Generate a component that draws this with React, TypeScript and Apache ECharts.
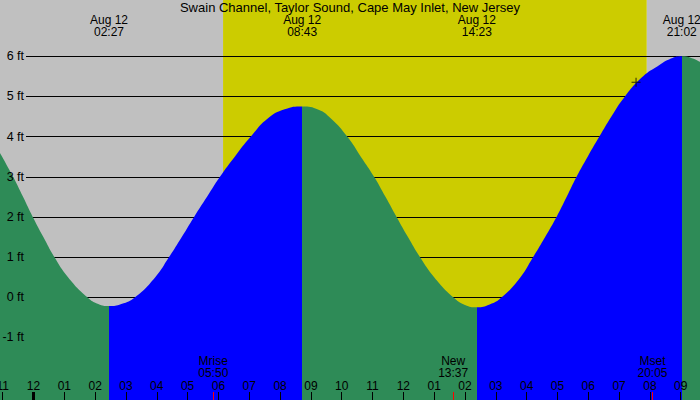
import { useEffect, useRef } from "react"
import * as echarts from "echarts"

// x is hours after midnight of Aug 12 (negative = evening of Aug 11)
const X_MIN = -1.087
const X_MAX = 21.625
const Y_MIN = -2.557
const Y_MAX = 7.4

const tideHours = [
  -1.087, -0.662, -0.34, -0.023, 0.32, 0.678, 1.12, 1.748, 2.1, 2.45,
  2.85, 3.295, 3.95, 4.397, 4.81, 5.21, 5.63, 6.05, 6.53, 7.05, 7.6, 8.15, 8.717,
  9.25, 9.65, 10.18, 10.62, 11.05, 11.42, 11.78, 12.15, 12.54, 13.0, 13.62, 14.0, 14.383,
  14.8, 15.19, 15.8, 16.21, 16.6, 16.97, 17.3, 17.62, 17.98, 18.36, 18.75, 19.19, 19.78, 20.25, 20.62, 21.033,
  21.3, 21.625,
]
const tideFeet = [
  3.59, 3.0, 2.5, 2.0, 1.5, 1.0, 0.5, 0.0, -0.17, -0.22,
  -0.17, 0.0, 0.5, 1.0, 1.5, 2.0, 2.5, 3.0, 3.5, 4.0, 4.45, 4.68, 4.75,
  4.67, 4.45, 4.0, 3.5, 3.0, 2.5, 2.0, 1.5, 1.0, 0.5, 0.0, -0.19, -0.25,
  -0.18, 0.0, 0.5, 1.0, 1.5, 2.0, 2.5, 3.0, 3.5, 4.0, 4.5, 5.0, 5.5, 5.75, 5.92, 6.0,
  5.97, 5.86,
]

const tideEventDate = "Aug 12"
const tideEventTimes = ["02:27", "08:43", "14:23", "21:02"]
const sunTimes = ["06:09", "19:54"] // sunrise, sunset
const moonEvents = ["Mrise", "New", "Mset"]
const moonTimes = ["05:50", "13:37", "20:05"]
const hourTicks = [-1, 0, 1, 2, 3, 4, 5, 6, 7, 8, 9, 10, 11, 12, 13, 14, 15, 16, 17, 18, 19, 20, 21]
const midnightTicks = [0]
const feetTicks = [-1, 0, 1, 2, 3, 4, 5, 6]
const nowPoint = [19.55, 5.35]

const TITLE = "Swain Channel, Taylor Sound, Cape May Inlet, New Jersey"
const NIGHT = "#c0c0c0"
const DAY = "#cccc00"
const FALLING = "#2e8b57"
const RISING = "#0000ff"
const FONT = "Liberation Sans"

const toHours = (t: string) => {
  const [h, m] = t.split(":").map(Number)
  return h + m / 60
}

export default function App() {
  const chartRef = useRef<HTMLDivElement>(null)

  useEffect(() => {
    if (!chartRef.current) return
    document.body.style.margin = "0"

    const chart = echarts.init(chartRef.current, undefined, { renderer: "svg" })

    const extremeHours = tideEventTimes.map(toHours)
    const [sunrise, sunset] = sunTimes.map(toHours)
    const moonHours = moonTimes.map(toHours)

    // falling water green, rising water blue
    const bounds = [X_MIN - 1, ...extremeHours, X_MAX + 1]
    const pieces = bounds.slice(0, -1).map((b, i) => ({
      gte: b,
      lt: bounds[i + 1],
      color: i % 2 === 0 ? FALLING : RISING,
    }))

    // grid lines start just right of the "ft" labels
    const lineStart = X_MIN + (26 / 700) * (X_MAX - X_MIN)

    const findIndex = (list: number[], v: number) => list.findIndex((h) => Math.abs(h - v) < 1e-6)
    const hourLabel = (v: number) => String(((v % 12) + 12) % 12 || 12).padStart(2, "0")

    const textBase = { color: "#000", fontFamily: FONT }
    const hiddenLine = { show: false, onZero: false }

    chart.setOption({
      animation: false,
      textStyle: { fontFamily: FONT },
      title: {
        text: TITLE,
        left: "center",
        top: 0,
        padding: 0,
        textStyle: { ...textBase, fontSize: 13, fontWeight: "normal", lineHeight: 14 },
      },
      grid: { left: 0, right: 0, top: 0, bottom: 0, containLabel: false, outerBoundsMode: "none" },
      visualMap: {
        type: "piecewise",
        show: false,
        dimension: 0,
        seriesIndex: 1,
        pieces,
      },
      xAxis: [
        {
          type: "value",
          min: X_MIN,
          max: X_MAX,
          position: "bottom",
          z: 5,
          axisLine: hiddenLine,
          splitLine: { show: false },
          axisTick: { inside: true, length: 8, customValues: hourTicks, lineStyle: { color: "#000", width: 1 } },
          axisLabel: {
            inside: true,
            margin: 8,
            customValues: hourTicks,
            formatter: hourLabel,
            ...textBase,
            fontSize: 12,
          },
        },
        {
          type: "value",
          min: X_MIN,
          max: X_MAX,
          position: "top",
          z: 5,
          axisLine: hiddenLine,
          splitLine: { show: false },
          axisTick: { show: false },
          axisLabel: {
            inside: true,
            margin: 14,
            customValues: extremeHours,
            formatter: (v: number) => {
              const i = findIndex(extremeHours, v)
              return i < 0 ? "" : `${tideEventDate}\n${tideEventTimes[i]}`
            },
            ...textBase,
            fontSize: 12,
            lineHeight: 12,
          },
        },
        {
          type: "value",
          min: X_MIN,
          max: X_MAX,
          position: "bottom",
          z: 6,
          axisLine: hiddenLine,
          splitLine: { show: false },
          axisTick: { inside: true, length: 8, customValues: moonHours, lineStyle: { color: "#ff0000", width: 1 } },
          axisLabel: {
            inside: true,
            margin: 21,
            customValues: moonHours,
            formatter: (v: number) => {
              const i = findIndex(moonHours, v)
              return i < 0 ? "" : `${moonEvents[i]}\n${moonTimes[i]}`
            },
            ...textBase,
            fontSize: 12,
            lineHeight: 12,
          },
        },
        {
          type: "value",
          min: X_MIN,
          max: X_MAX,
          position: "bottom",
          z: 5,
          axisLine: hiddenLine,
          splitLine: { show: false },
          axisTick: { inside: true, length: 8, customValues: midnightTicks, lineStyle: { color: "#000", width: 3 } },
          axisLabel: { show: false },
        },
      ],
      yAxis: {
        type: "value",
        min: Y_MIN,
        max: Y_MAX,
        position: "left",
        z: 5,
        axisLine: { show: false },
        axisTick: { show: false },
        splitLine: { show: false },
        axisLabel: {
          inside: true,
          align: "right",
          margin: 24,
          customValues: feetTicks,
          formatter: (v: number) => `${v} ft`,
          ...textBase,
          fontSize: 12.5,
        },
      },
      series: [
        {
          // night / day background and the height grid lines
          type: "line",
          data: [],
          silent: true,
          markArea: {
            silent: true,
            z: 0.5,
            data: [
              [{ xAxis: X_MIN, itemStyle: { color: NIGHT } }, { xAxis: sunrise }],
              [{ xAxis: sunrise, itemStyle: { color: DAY } }, { xAxis: sunset }],
              [{ xAxis: sunset, itemStyle: { color: NIGHT } }, { xAxis: X_MAX }],
            ],
          },
          markLine: {
            silent: true,
            z: 1,
            symbol: ["none", "none"],
            label: { show: false },
            lineStyle: { color: "#000", width: 1, type: "solid" },
            emphasis: { disabled: true },
            data: feetTicks.map((v) => [{ coord: [lineStart, v] }, { coord: [X_MAX, v] }]),
          },
        },
        {
          type: "line",
          data: tideHours.map((h, i) => [h, tideFeet[i]]),
          smooth: true,
          symbol: "none",
          silent: true,
          z: 2,
          lineStyle: { width: 0 },
          areaStyle: { opacity: 1, origin: "start" },
        },
        {
          type: "scatter",
          data: [nowPoint],
          symbol: "path://M4,0H5V4H9V5H5V9H4V5H0V4H4Z",
          symbolSize: 9,
          silent: true,
          z: 4,
          itemStyle: { color: "#000" },
        },
      ],
    })

    return () => {
      chart.dispose()
    }
  }, [])

  return <div ref={chartRef} style={{ width: "700px", height: "400px" }} />
}
